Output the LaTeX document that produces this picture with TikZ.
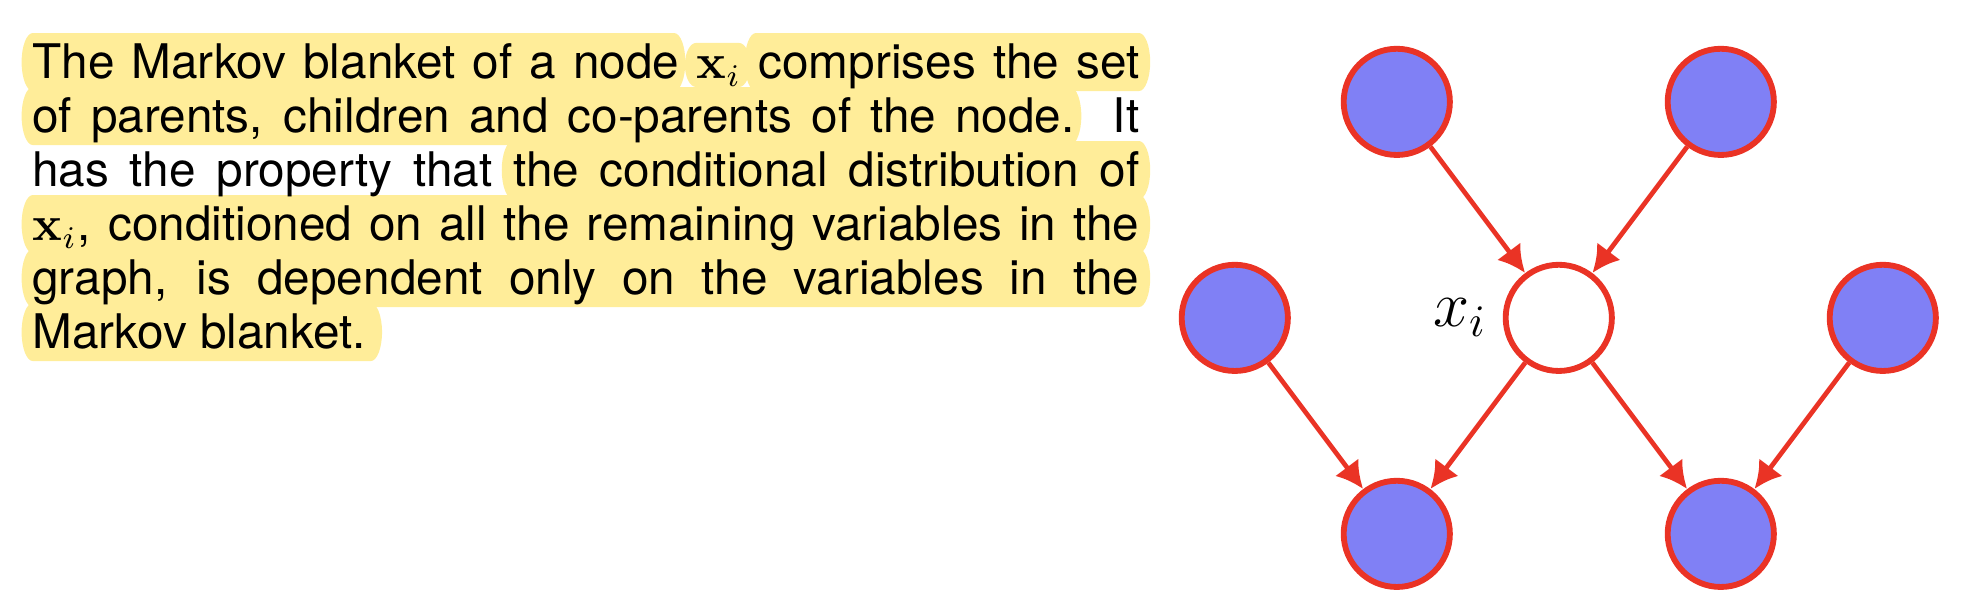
\documentclass[tikz,border=0pt]{standalone}
\usepackage[no-math]{fontspec}
\setmainfont{TeX Gyre Heros}
\usetikzlibrary{arrows.meta}

\definecolor{netred}{RGB}{234,51,37}
\definecolor{netblue}{RGB}{128,128,245}
\definecolor{markyellow}{RGB}{255,237,153}

\tikzset{
  obs/.style={circle, draw=netred, fill=netblue, line width=1.3pt,
    minimum size=23.6pt, inner sep=0pt},
  free/.style={obs, fill=white},
  edge/.style={draw=netred, line width=1.05pt, -{Latex[length=6pt,width=6.5pt]}},
  marker/.style={fill=markyellow},
  textline/.style={anchor=base west, inner sep=0pt, font=\fontsize{10.6}{12}\selectfont}
}

% markeerband: links, rechts, basislijn, boven, onder
\newcommand{\band}[5]{%
  \fill[marker] (#1,#3-#5) -- (#2,#3-#5)
    arc[start angle=-90, end angle=90, x radius=2.5, y radius={(#4+#5)/2}]
    -- (#1,#3+#4)
    arc[start angle=90, end angle=270, x radius=2.5, y radius={(#4+#5)/2}] -- cycle;}

\begin{document}
\begin{tikzpicture}[x=1pt, y=1pt]
    \useasboundingbox (0,0) rectangle (439.56,136.44);

    % Markeringen
    \band{7.3}{149.8}{118.9}{10.2}{2.7}
    \band{154.7}{164.2}{118.9}{8}{1.8}
    \band{168}{253.1}{118.9}{10.2}{2.7}
    \band{7.3}{237.8}{106.9}{10.2}{2.7}
    \band{114}{253.1}{94.9}{10.2}{2.7}
    \foreach \b in {82.9,70.9} {
      \band{7.3}{253.1}{\b}{10.2}{2.7}
    }
    \band{7.3}{82.4}{58.9}{10.2}{2.7}

    % Tekst
    \node[textline] (line1) at (7,118.9) {\makebox[246pt][s]{The Markov blanket of a node $\mathbf{x}_i$ comprises the set}};
    \node[textline] (line2) at (7,106.9) {\makebox[246pt][s]{of parents, children and co-parents of the node.\ \ It}};
    \node[textline] (line3) at (7,94.9) {\makebox[246pt][s]{has the property that the conditional distribution of}};
    \node[textline] (line4) at (7,82.9) {\makebox[246pt][s]{$\mathbf{x}_i$, conditioned on all the remaining variables in the}};
    \node[textline] (line5) at (7,70.9) {\makebox[246pt][s]{graph, is dependent only on the variables in the}};
    \node[textline] (line6) at (7,58.9) {Markov blanket.};

    % Knopen
    \node[free, label={[font=\Large]left:$x_i$}] (xi) at (346.4,65.8) {};
    \node[obs] (par1) at (310.4,113.8) {};
    \node[obs] (par2) at (382.4,113.8) {};
    \node[obs] (cop1) at (274.4,65.8) {};
    \node[obs] (cop2) at (418.4,65.8) {};
    \node[obs] (ch1)  at (310.4,17.8) {};
    \node[obs] (ch2)  at (382.4,17.8) {};

    % Pijlen
    \foreach \a/\b in {par1/xi, par2/xi, xi/ch1, xi/ch2, cop1/ch1, cop2/ch2} {
      \draw[edge] (\a) -- (\b);
    }
\end{tikzpicture}
\end{document}
